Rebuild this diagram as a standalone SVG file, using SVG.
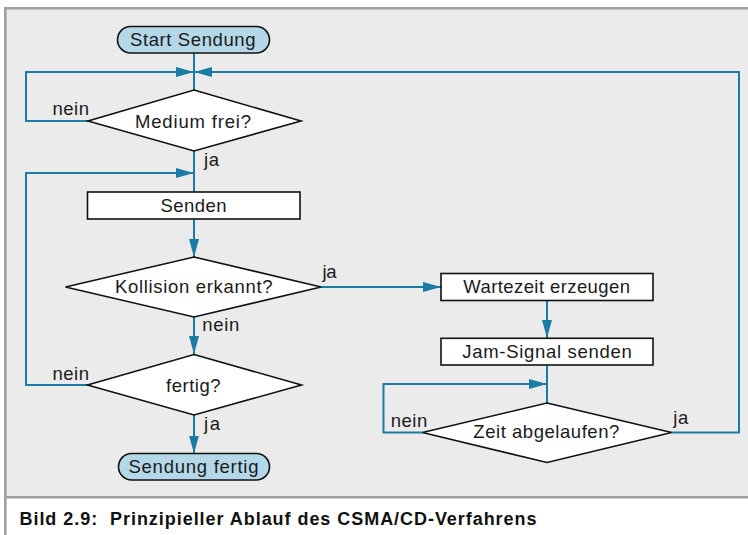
<svg xmlns="http://www.w3.org/2000/svg" width="748" height="535" viewBox="0 0 748 535">
<style>
.t{font-family:"Liberation Sans",Arial,Helvetica,sans-serif;font-size:18.5px;fill:#1a1a1a}
.cap{font-family:"Liberation Sans",Arial,Helvetica,sans-serif;font-size:18px;font-weight:bold;fill:#111}
.sh{fill:#fff;stroke:#111;stroke-width:1.6}
.pill{fill:#b5d8e8;stroke:#111;stroke-width:1.6}
.c{fill:none;stroke:#1b7ca3;stroke-width:2}
.ca{fill:none;stroke:#1b7ca3;stroke-width:2;marker-end:url(#ah)}
</style>
<defs>
<marker id="ah" markerUnits="userSpaceOnUse" markerWidth="19" markerHeight="10" refX="18" refY="5" orient="auto" viewBox="0 0 19 10">
<path d="M0,0 L18,5 L0,10 Z" fill="#1b7ca3"/>
</marker>
</defs>
<rect x="0" y="0" width="748" height="535" fill="#fff"/>
<rect x="5" y="8" width="743" height="489" fill="#ebebeb"/>
<path d="M5.3,535 V8.3 H748" fill="none" stroke="#a0a0a0" stroke-width="2.6"/>
<path d="M5.3,497.3 H748" fill="none" stroke="#a0a0a0" stroke-width="2.6"/>

<g id="connectors">
<path class="c" d="M194,53 V90"/>
<path class="ca" d="M88,121 H26 V72 H194"/>
<path class="ca" d="M671,432.5 H739 V72 H194"/>
<path class="c" d="M194,151 V192"/>
<path class="ca" d="M88,385 H26 V173 H194"/>
<path class="ca" d="M194,219 V257"/>
<path class="ca" d="M194,317 V354"/>
<path class="ca" d="M194,415 V453.5"/>
<path class="ca" d="M321,287 H441"/>
<path class="ca" d="M547,300.5 V338"/>
<path class="c" d="M547,365 V403"/>
<path class="ca" d="M423,432.5 H383.5 V384 H547"/>
</g>

<g id="start">
<rect class="pill" x="117.5" y="26.5" width="152" height="26.5" rx="13.2"/>
<text class="t" x="130" y="45.5" textLength="125.5" lengthAdjust="spacing">Start Sendung</text>
</g>
<g id="medium">
<polygon class="sh" points="194,90 301,121 194,151 88,121"/>
<text class="t" x="135" y="128" textLength="116" lengthAdjust="spacing">Medium frei?</text>
<text class="t" x="52.5" y="115" textLength="36.5" lengthAdjust="spacing">nein</text>
<text class="t" x="204" y="165.5" textLength="15" lengthAdjust="spacing">ja</text>
</g>
<g id="senden">
<rect class="sh" x="87.5" y="192" width="212.5" height="27"/>
<text class="t" x="160.5" y="211.5" textLength="66" lengthAdjust="spacing">Senden</text>
</g>
<g id="kollision">
<polygon class="sh" points="194,257 321,287 194,317 65.5,287"/>
<text class="t" x="115" y="292.5" textLength="157.5" lengthAdjust="spacing">Kollision erkannt?</text>
<text class="t" x="202.3" y="330.5" textLength="37" lengthAdjust="spacing">nein</text>
<text class="t" x="322.5" y="278" textLength="14" lengthAdjust="spacing">ja</text>
</g>
<g id="fertig">
<polygon class="sh" points="194,354.5 301.5,385 194,415 87.5,385"/>
<text class="t" x="166" y="391.5" textLength="54.5" lengthAdjust="spacing">fertig?</text>
<text class="t" x="52.5" y="380" textLength="36.5" lengthAdjust="spacing">nein</text>
<text class="t" x="204" y="430" textLength="16" lengthAdjust="spacing">ja</text>
</g>
<g id="sendungfertig">
<rect class="pill" x="118.5" y="453.5" width="151" height="26.5" rx="13.2"/>
<text class="t" x="128.5" y="473.3" textLength="130" lengthAdjust="spacing">Sendung fertig</text>
</g>
<g id="wartezeit">
<rect class="sh" x="441" y="273.5" width="212" height="27"/>
<text class="t" x="463.3" y="293.2" textLength="166.7" lengthAdjust="spacing">Wartezeit erzeugen</text>
</g>
<g id="jam">
<rect class="sh" x="441" y="338.3" width="212" height="26.7"/>
<text class="t" x="462.3" y="357.7" textLength="169.4" lengthAdjust="spacing">Jam-Signal senden</text>
</g>
<g id="zeit">
<polygon class="sh" points="547,403 671.5,432.5 547,462.5 422.5,432.5"/>
<text class="t" x="473.3" y="438.3" textLength="146" lengthAdjust="spacing">Zeit abgelaufen?</text>
<text class="t" x="390.7" y="426.7" textLength="36.6" lengthAdjust="spacing">nein</text>
<text class="t" x="673.3" y="424" textLength="15" lengthAdjust="spacing">ja</text>
</g>
<g id="caption">
<text class="cap" x="19.5" y="525" textLength="517" lengthAdjust="spacing">Bild 2.9:&#160; Prinzipieller Ablauf des CSMA/CD-Verfahrens</text>
</g>
</svg>
